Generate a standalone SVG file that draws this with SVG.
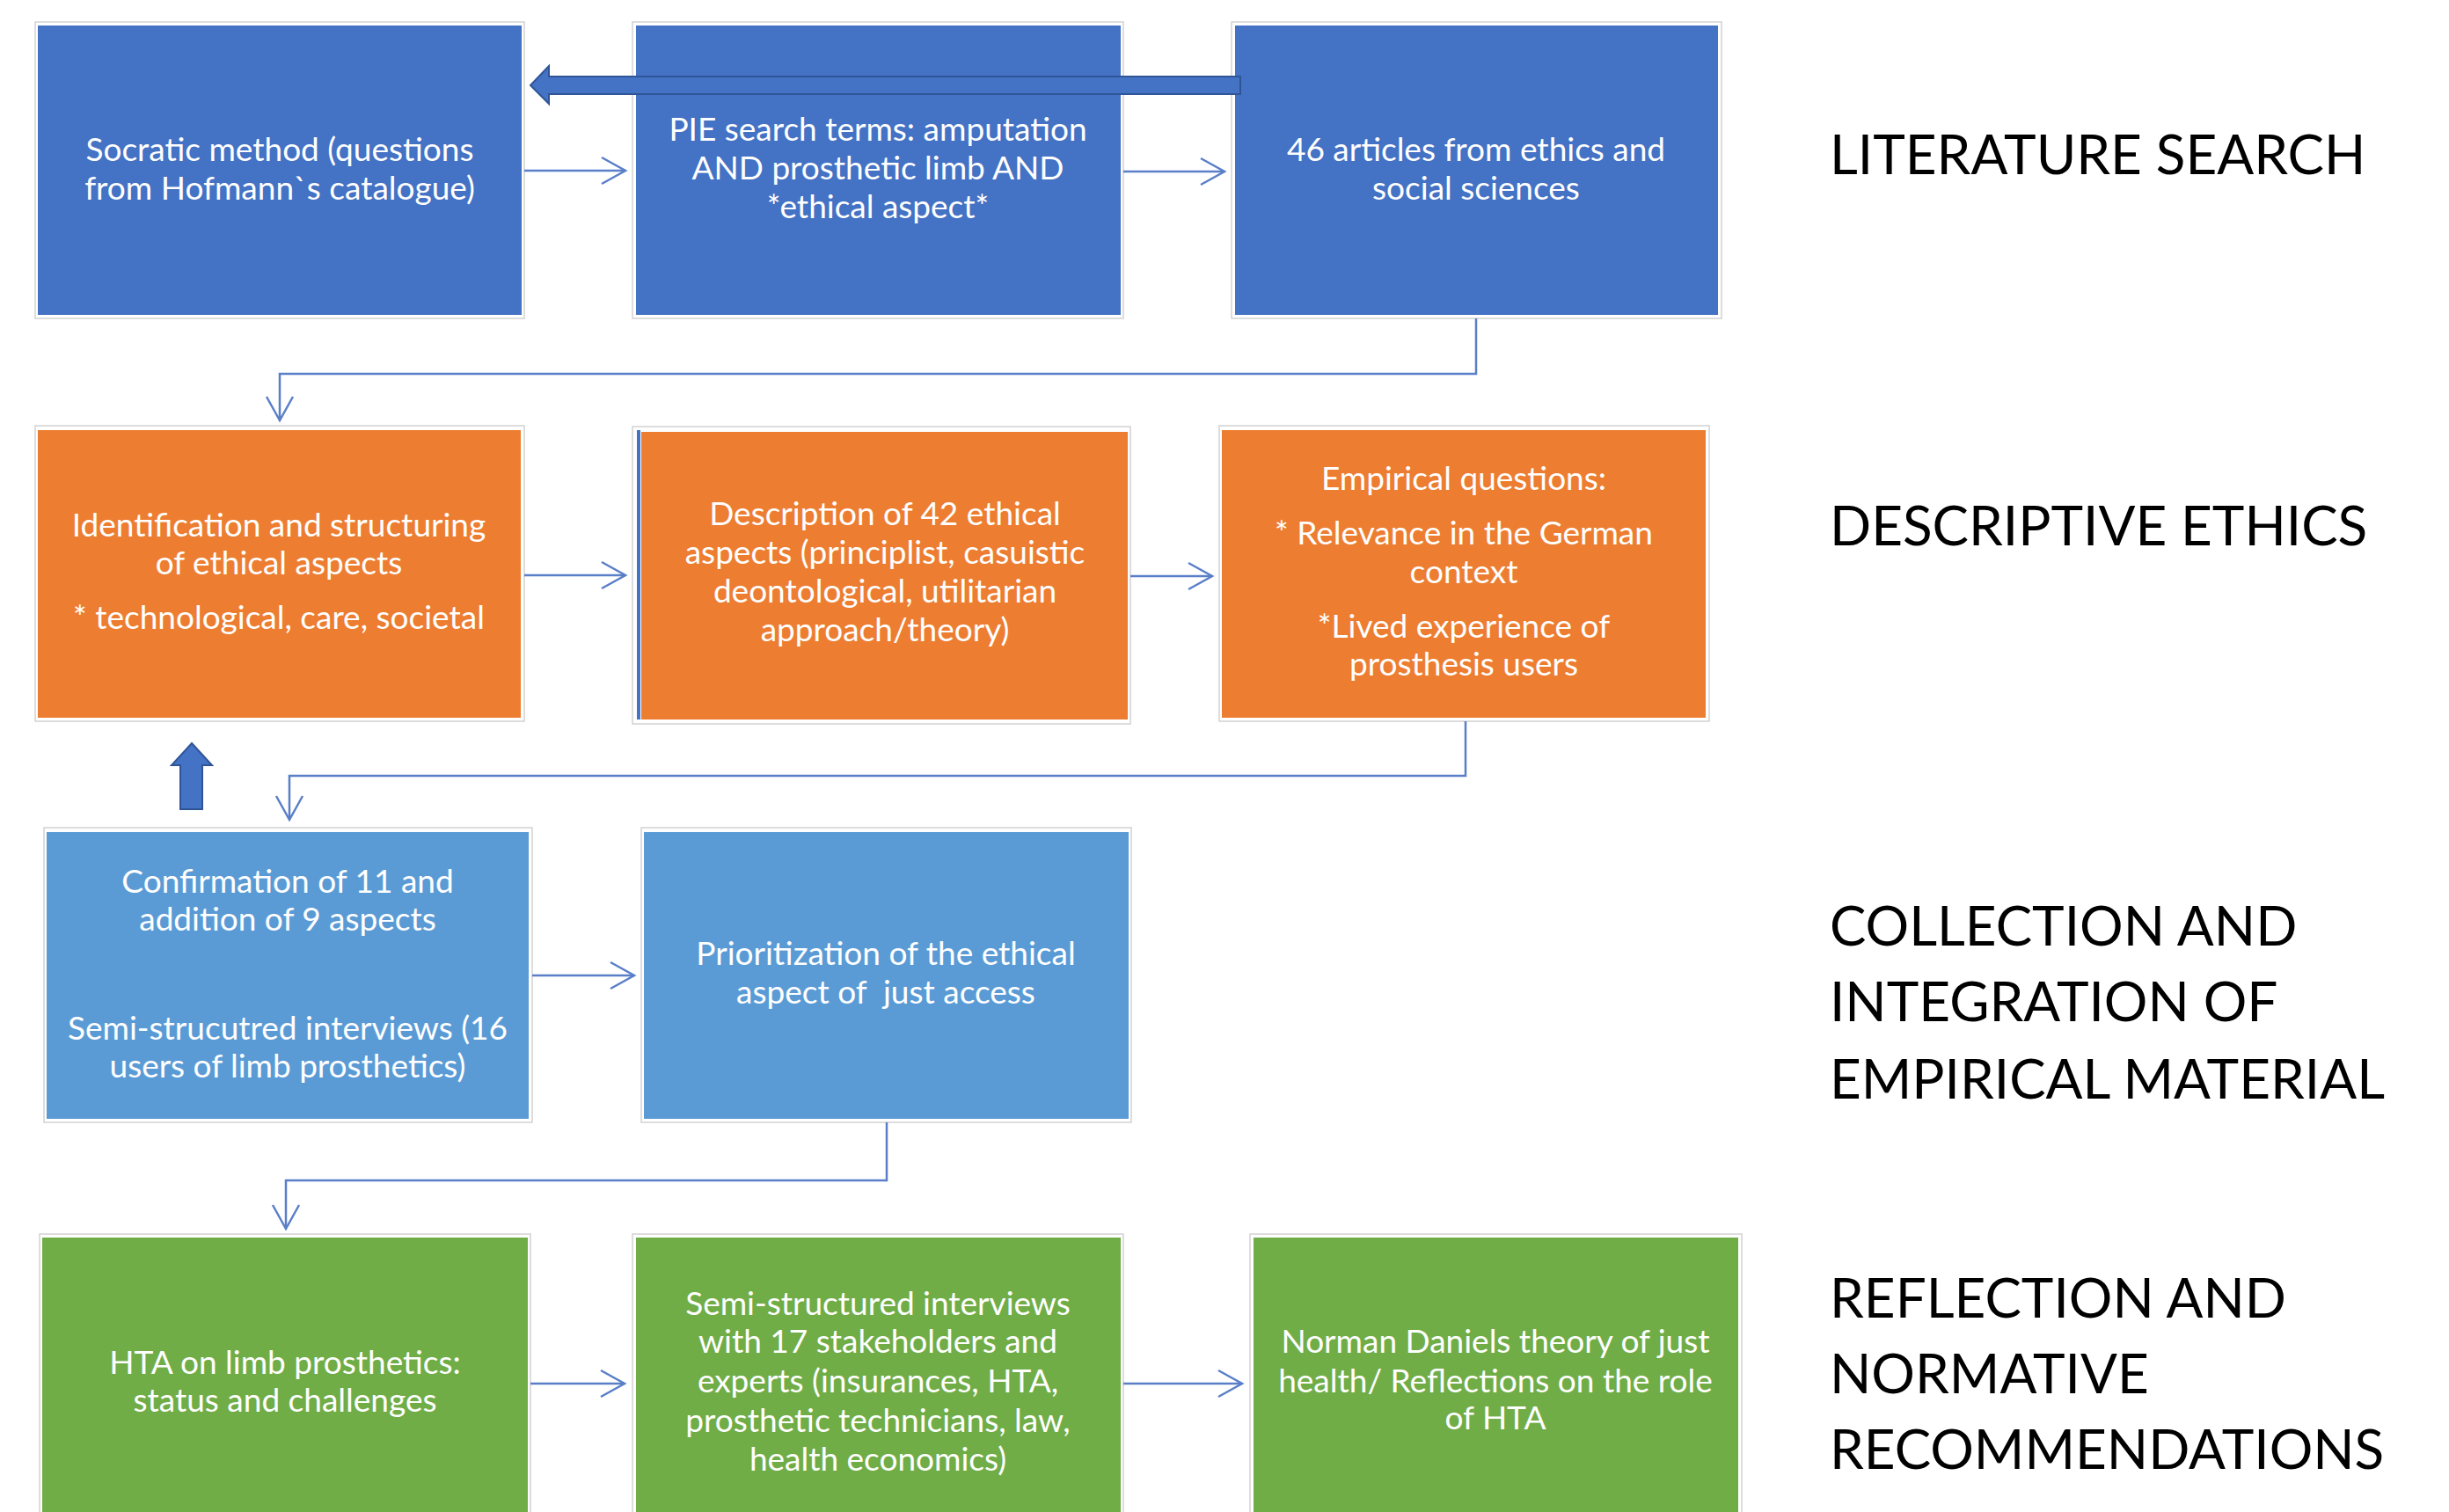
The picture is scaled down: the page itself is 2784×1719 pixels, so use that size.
<svg xmlns="http://www.w3.org/2000/svg" width="2784" height="1719" viewBox="0 0 2784 1719">
<defs>
<style>
.frame{fill:#ffffff;stroke:#d2d2d2;stroke-width:1.5}
.dblue{fill:#4472c4}
.orange{fill:#ed7d31}
.lblue{fill:#5b9bd5}
.green{fill:#70ad47}
.bt{font-family:Lato,"Open Sans","Liberation Sans",sans-serif;font-size:37px;fill:#ffffff;text-anchor:middle}
.lab{font-family:Lato,"Open Sans","Liberation Sans",sans-serif;font-size:62px;fill:#000000}
.conn{fill:none;stroke:#5a7fc8;stroke-width:2.5}
.big{fill:#4472c4;stroke:#2f5597;stroke-width:2}
</style>
<marker id="ah" markerUnits="userSpaceOnUse" markerWidth="34" markerHeight="36" refX="30" refY="18" orient="auto">
<path d="M3,3 L30,18 L3,33" fill="none" stroke="#5a7fc8" stroke-width="2.5"/>
</marker>
</defs>
<rect x="0" y="0" width="2784" height="1719" fill="#ffffff"/>

<g id="n-socratic">
<rect class="frame" x="40" y="25" width="556" height="337"/>
<rect class="dblue" x="43" y="29" width="550" height="329"/>
<text class="bt" x="318" y="183">Socratic method (questions</text>
<text class="bt" x="318" y="227">from Hofmann`s catalogue)</text>
</g>
<g id="n-pie">
<rect class="frame" x="719" y="25" width="558" height="337"/>
<rect class="dblue" x="723" y="29" width="551" height="329"/>
<text class="bt" x="998" y="160">PIE search terms: amputation</text>
<text class="bt" x="998" y="204">AND prosthetic limb AND</text>
<text class="bt" x="998" y="248">*ethical aspect*</text>
</g>
<g id="n-articles">
<rect class="frame" x="1400" y="25" width="557" height="337"/>
<rect class="dblue" x="1404" y="29" width="549" height="329"/>
<text class="bt" x="1678" y="183">46 articles from ethics and</text>
<text class="bt" x="1678" y="227">social sciences</text>
</g>

<g id="n-identification">
<rect class="frame" x="40" y="484" width="556" height="336"/>
<rect class="orange" x="43" y="489" width="549" height="327"/>
<text class="bt" x="317" y="610">Identification and structuring</text>
<text class="bt" x="317" y="653">of ethical aspects</text>
<text class="bt" x="317" y="715">* technological, care, societal</text>
</g>
<g id="n-description">
<rect class="frame" x="719" y="485" width="566" height="338"/>
<rect class="orange" x="729" y="491" width="553" height="327"/>
<line x1="726" y1="489" x2="726" y2="818" stroke="#4472c4" stroke-width="4"/>
<text class="bt" x="1006" y="597">Description of 42 ethical</text>
<text class="bt" x="1006" y="641">aspects (principlist, casuistic</text>
<text class="bt" x="1006" y="685">deontological, utilitarian</text>
<text class="bt" x="1006" y="729">approach/theory)</text>
</g>
<g id="n-empirical">
<rect class="frame" x="1386" y="484" width="557" height="336"/>
<rect class="orange" x="1389" y="489" width="550" height="327"/>
<text class="bt" x="1664" y="557">Empirical questions:</text>
<text class="bt" x="1664" y="619">* Relevance in the German</text>
<text class="bt" x="1664" y="663">context</text>
<text class="bt" x="1664" y="725">*Lived experience of</text>
<text class="bt" x="1664" y="768">prosthesis users</text>
</g>

<g id="n-confirmation">
<rect class="frame" x="50" y="941" width="555" height="335"/>
<rect class="lblue" x="53" y="946" width="548" height="326"/>
<text class="bt" x="327" y="1015">Confirmation of 11 and</text>
<text class="bt" x="327" y="1058">addition of 9 aspects</text>
<text class="bt" x="327" y="1182">Semi-strucutred interviews (16</text>
<text class="bt" x="327" y="1225">users of limb prosthetics)</text>
</g>
<g id="n-prioritization">
<rect class="frame" x="729" y="941" width="557" height="335"/>
<rect class="lblue" x="732" y="946" width="551" height="326"/>
<text class="bt" x="1007" y="1097">Prioritization of the ethical</text>
<text class="bt" x="1007" y="1141" xml:space="preserve">aspect of  just access</text>
</g>

<g id="n-hta">
<rect class="frame" x="45" y="1403" width="558" height="330"/>
<rect class="green" x="48" y="1407" width="552" height="330"/>
<text class="bt" x="324" y="1562">HTA on limb prosthetics:</text>
<text class="bt" x="324" y="1605">status and challenges</text>
</g>
<g id="n-stakeholders">
<rect class="frame" x="719" y="1403" width="558" height="330"/>
<rect class="green" x="723" y="1407" width="551" height="330"/>
<text class="bt" x="998" y="1495">Semi-structured interviews</text>
<text class="bt" x="998" y="1538">with 17 stakeholders and</text>
<text class="bt" x="998" y="1583">experts (insurances, HTA,</text>
<text class="bt" x="998" y="1628">prosthetic technicians, law,</text>
<text class="bt" x="998" y="1672">health economics)</text>
</g>
<g id="n-daniels">
<rect class="frame" x="1421" y="1403" width="559" height="330"/>
<rect class="green" x="1425" y="1407" width="551" height="330"/>
<text class="bt" x="1700" y="1538">Norman Daniels theory of just</text>
<text class="bt" x="1700" y="1583">health/ Reflections on the role</text>
<text class="bt" x="1700" y="1625">of HTA</text>
</g>

<g id="labels">
<text class="lab" x="2080" y="198">LITERATURE SEARCH</text>
<text class="lab" x="2080" y="620">DESCRIPTIVE ETHICS</text>
<text class="lab" x="2080" y="1075">COLLECTION AND</text>
<text class="lab" x="2080" y="1161">INTEGRATION OF</text>
<text class="lab" x="2080" y="1249">EMPIRICAL MATERIAL</text>
<text class="lab" x="2080" y="1498">REFLECTION AND</text>
<text class="lab" x="2080" y="1584">NORMATIVE</text>
<text class="lab" x="2080" y="1670">RECOMMENDATIONS</text>
</g>

<g id="connectors">
<path class="conn" d="M596,194 H711" marker-end="url(#ah)"/>
<path class="conn" d="M1277,195 H1392" marker-end="url(#ah)"/>
<path class="conn" d="M1678,362 V425 H318 V478" marker-end="url(#ah)"/>
<path class="conn" d="M596,654 H711" marker-end="url(#ah)"/>
<path class="conn" d="M1285,655 H1378" marker-end="url(#ah)"/>
<path class="conn" d="M1666,820 V882 H329 V932" marker-end="url(#ah)"/>
<path class="conn" d="M605,1109 H721" marker-end="url(#ah)"/>
<path class="conn" d="M1008,1276 V1342 H325 V1397" marker-end="url(#ah)"/>
<path class="conn" d="M603,1573 H710" marker-end="url(#ah)"/>
<path class="conn" d="M1277,1573 H1412" marker-end="url(#ah)"/>
<path class="big" d="M603,97 L624,75 L624,87 L1410,87 L1410,107 L624,107 L624,118 Z"/>
<path class="big" d="M218,845 L241,870 L230,870 L230,920 L205,920 L205,870 L195,870 Z"/>
</g>
</svg>
